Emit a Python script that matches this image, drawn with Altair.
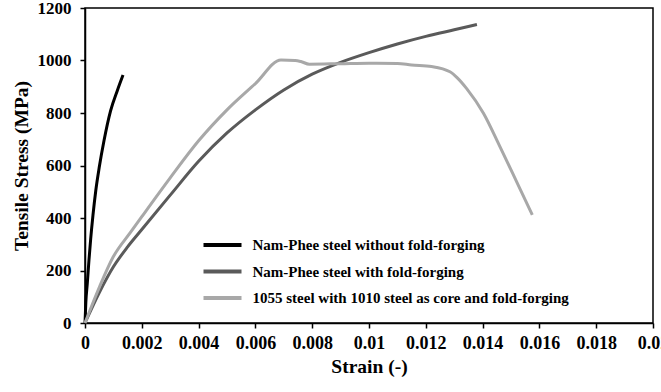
import altair as alt
import pandas as pd

# Tensile stress-strain curves for three forged steels
series_names = [
    "Nam-Phee steel without fold-forging",
    "Nam-Phee steel with fold-forging",
    "1055 steel with 1010 steel as core and fold-forging",
]
series_colors = ["#000000", "#5a5a5a", "#a8a8a8"]

strain_plain = [0, 0.00003, 0.00008, 0.00014, 0.0002, 0.00028, 0.00038, 0.0005, 0.00067,
                0.0009, 0.00114, 0.00134]
stress_plain = [0, 80, 150, 240, 320, 410, 505, 592, 695, 808, 886, 945]

strain_fold = [0, 0.0005, 0.001, 0.0015, 0.002, 0.003, 0.004, 0.005, 0.006, 0.007, 0.008,
               0.009, 0.010, 0.011, 0.012, 0.013, 0.0138]
stress_fold = [0, 115, 214, 290, 356, 487, 616, 724, 812, 888, 948, 993, 1030, 1063, 1092,
               1117, 1137]

strain_core = [0, 0.0005, 0.001, 0.0016, 0.002, 0.003, 0.004, 0.005, 0.006, 0.0069,
               0.0074, 0.0076, 0.0079, 0.009, 0.010, 0.011, 0.0115, 0.0122, 0.01285, 0.0131,
               0.01344, 0.01403, 0.01461, 0.0152, 0.01575]
stress_core = [0, 135, 253, 345, 405, 553, 694, 812, 912, 1002, 1000, 996, 986, 988,
               990, 989, 983, 977, 957, 935, 893, 799, 672, 538, 412]

frames = []
for name, xs, ys in zip(series_names,
                        [strain_plain, strain_fold, strain_core],
                        [stress_plain, stress_fold, stress_core]):
    frames.append(pd.DataFrame({"strain": xs, "stress": ys, "series": name}))
df = pd.concat(frames, ignore_index=True)

serif = "Times New Roman, Liberation Serif, Times, serif"

x_enc = alt.X(
    "strain:Q",
    scale=alt.Scale(domain=[0, 0.02], nice=False),
    axis=alt.Axis(
        title="Strain (-)", values=[i * 0.002 for i in range(11)], format="~g",
        labelPadding=6, titlePadding=5, labelFontSize=18,
    ),
)
y_enc = alt.Y(
    "stress:Q",
    scale=alt.Scale(domain=[0, 1200], nice=False),
    axis=alt.Axis(
        title="Tensile Stress (MPa)", values=list(range(0, 1201, 200)), format="d",
        labelPadding=9, titlePadding=6, labelFontSize=17,
    ),
)
# wide horizontal dash as the legend swatch
swatch = "M-2,0H2"
color_enc = alt.Color(
    "series:N",
    scale=alt.Scale(domain=series_names, range=series_colors),
    legend=alt.Legend(
        title=None, orient="none", legendX=126, legendY=225.5,
        symbolType=swatch, symbolSize=361, symbolStrokeWidth=4,
        labelFont=serif, labelFontWeight="bold", labelFontSize=15, labelColor="#000000",
        labelLimit=500, rowPadding=6.5, labelOffset=18.5,
    ),
)

base = alt.Chart(df).encode(x=x_enc, y=y_enc, color=color_enc, order="strain:Q")

lines = base.mark_line(strokeWidth=3, interpolate="monotone")

chart = (
    lines
    .properties(
        width=568, height=315,
        autosize=alt.AutoSizeParams(type="none"),
        padding={"left": 85, "top": 8, "right": 8, "bottom": 69},
    )
    .configure_view(stroke="#000000", strokeWidth=1.5)
    .configure_axis(
        grid=False, domainColor="#000000", domainWidth=1.5, tickColor="#000000",
        tickWidth=1.5, tickSize=5, labelFont=serif, labelFontWeight="bold",
        labelColor="#000000", titleFont=serif, titleFontWeight="bold",
        titleFontSize=19.5, titleColor="#000000",
    )
    .configure_axisX(labelFlush=False, labelOverlap=False)
)

chart.save("out.html", embed_options={"renderer": "svg", "actions": False})
